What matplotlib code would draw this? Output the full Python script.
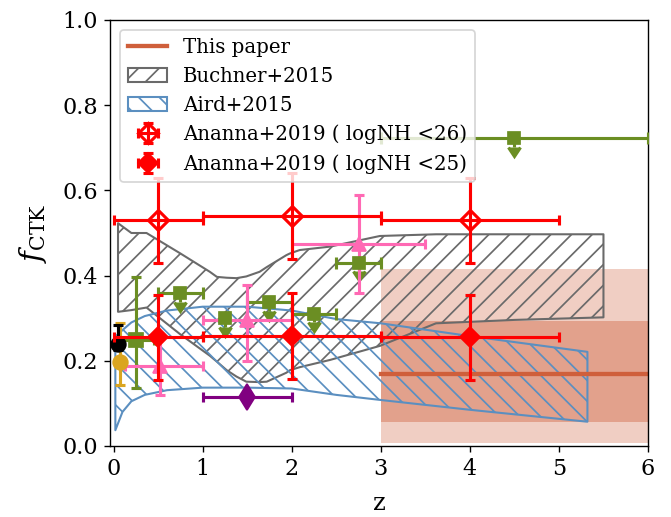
import numpy as np
import matplotlib
matplotlib.use("Agg")
import matplotlib.pyplot as plt

plt.rcParams['font.family'] = ['DejaVu Serif']
plt.rcParams['mathtext.fontset'] = 'dejavuserif'

# ---- This paper: constraint at z > 3 ----
this_z = [3.0, 6.0]
this_f = 0.169
this_band_outer = (0.008, 0.415)
this_band_inner = (0.057, 0.293)

# ---- Buchner+2015 band ----
buchner_z = [0.05, 0.2, 0.37, 0.75, 1.08, 1.16, 1.27, 1.38, 1.49, 1.64, 1.72,
             1.94, 1.98, 2.09, 2.43, 2.99, 3.62, 4.5, 5.5]
buchner_hi = [0.523, 0.50, 0.50, 0.452, 0.409, 0.397, 0.395, 0.394, 0.398, 0.409, 0.42,
              0.448, 0.452, 0.46, 0.468, 0.493, 0.497, 0.497, 0.497]
buchner_lo = [0.315, 0.319, 0.325, 0.262, 0.212, 0.198, 0.178, 0.163, 0.151, 0.150, 0.151,
              0.172, 0.178, 0.185, 0.202, 0.235, 0.288, 0.296, 0.302]

# ---- Aird+2015 band ----
aird_z = [0.02, 0.1, 0.2, 0.35, 0.6, 1.0, 1.5, 2.0, 2.5, 3.0, 4.0, 5.32]
aird_hi = [0.257, 0.272, 0.29, 0.305, 0.318, 0.327, 0.327, 0.318, 0.298, 0.288, 0.258, 0.221]
aird_lo = [0.037, 0.08, 0.105, 0.12, 0.131, 0.137, 0.137, 0.135, 0.12, 0.108, 0.085, 0.057]

# ---- Ananna+2019 ----
ananna_z = [0.5, 2.0, 4.0]
ananna_zerr = [0.5, 1.0, 1.0]
ananna26_f = [0.53, 0.54, 0.53]
ananna26_err = [0.10, 0.10, 0.10]
ananna25_f = [0.255, 0.258, 0.255]
ananna25_err = [0.10, 0.10, 0.10]

# ---- other literature measurements ----
green_z = [0.75, 1.25, 1.75, 2.25, 2.75, 4.5]
green_f = [0.358, 0.30, 0.338, 0.31, 0.43, 0.722]
green_zerr = [0.25, 0.0, 0.25, 0.25, 0.25, 1.5]
green0_z, green0_f = 0.25, 0.25
green0_zerr = 0.2
green0_ferr = [[0.115], [0.147]]

pink_z = [0.52, 1.5, 2.75]
pink_f = [0.187, 0.295, 0.474]
pink_zerr = [[0.39, 0.5, 0.75], [0.48, 0.5, 0.75]]
pink_ferr = [[0.067, 0.095, 0.116], [0.066, 0.083, 0.115]]

purple_z, purple_f, purple_zerr = 1.5, 0.115, 0.5

black_z, black_f = 0.045, 0.24
black_ferr = [[0.015], [0.045]]
gold_z, gold_f = 0.07, 0.198
gold_ferr = [[0.055], [0.09]]

this_color = '#cf5f3b'
buchner_color = '#6a6a6a'
aird_color = '#5b8fc0'

fig = plt.figure(figsize=(671 / 124, 517 / 124), dpi=124)
ax = fig.add_axes([110 / 671, 1 - 446 / 517, 538 / 671, 426 / 517])

# this paper bands and line
ax.fill_between(this_z, this_band_outer[0], this_band_outer[1],
                color=this_color, alpha=0.3, lw=0, zorder=0.5)
ax.fill_between(this_z, this_band_inner[0], this_band_inner[1],
                color=this_color, alpha=0.4, lw=0, zorder=0.6)
ax.plot(this_z, [this_f, this_f], color=this_color, lw=2.5, zorder=1.5,
        label='This paper')

# model bands
ax.fill_between(buchner_z, buchner_lo, buchner_hi, facecolor='none',
                edgecolor=buchner_color, hatch='//', lw=1.2, zorder=1,
                label='Buchner+2015')
ax.fill_between(aird_z, aird_lo, aird_hi, facecolor='none',
                edgecolor=aird_color, hatch='\\\\', lw=1.2, zorder=1,
                label='Aird+2015')

eb = dict(elinewidth=1.8, capsize=3, capthick=1.8, ls='none')

# green: upper limits and one measurement
ax.errorbar(green_z, green_f, xerr=green_zerr, yerr=0.02, uplims=True,
            fmt='s', color='olivedrab', ms=7, zorder=3,
            elinewidth=1.8, capsize=3.5, capthick=1.8)
ax.errorbar(green0_z, green0_f, xerr=green0_zerr, yerr=green0_ferr,
            fmt='s', color='olivedrab', ms=8, zorder=3, **eb)

# pink
ax.errorbar(pink_z, pink_f, xerr=pink_zerr, yerr=pink_ferr, fmt='^',
            color='hotpink', ms=8.5, zorder=3, **eb)

# purple
ax.errorbar(purple_z, purple_f, xerr=purple_zerr, fmt='d', color='purple',
            ms=11, zorder=3, **eb)

# low-z points
ax.errorbar(gold_z, gold_f, yerr=gold_ferr, fmt='o', color='goldenrod',
            ms=8.5, zorder=3.5, **eb)
ax.errorbar(black_z, black_f, yerr=black_ferr, fmt='o', color='black',
            ms=8.5, zorder=3.6, **eb)

# Ananna+2019
ax.errorbar(ananna_z, ananna26_f, xerr=ananna_zerr, yerr=ananna26_err,
            fmt='D', color='red', mfc='none', mec='red', mew=1.8, ms=8,
            zorder=4, label='Ananna+2019 ( logNH <26)', **eb)
ax.errorbar(ananna_z, ananna25_f, xerr=ananna_zerr, yerr=ananna25_err,
            fmt='D', color='red', ms=8.5, zorder=4,
            label='Ananna+2019 ( logNH <25)', **eb)

ax.set_xlim(-0.04, 6)
ax.set_ylim(0, 1)
ax.set_xticks([0, 1, 2, 3, 4, 5, 6])
ax.set_yticks([0.0, 0.2, 0.4, 0.6, 0.8, 1.0])
ax.tick_params(labelsize=13)
ax.set_xlabel('z', fontsize=14, labelpad=7)
ax.set_ylabel(r'$f_{\rm CTK}$', fontsize=17, labelpad=8)

ax.legend(loc='upper left', fontsize=11.5)

fig.savefig('out.png', dpi=124)
